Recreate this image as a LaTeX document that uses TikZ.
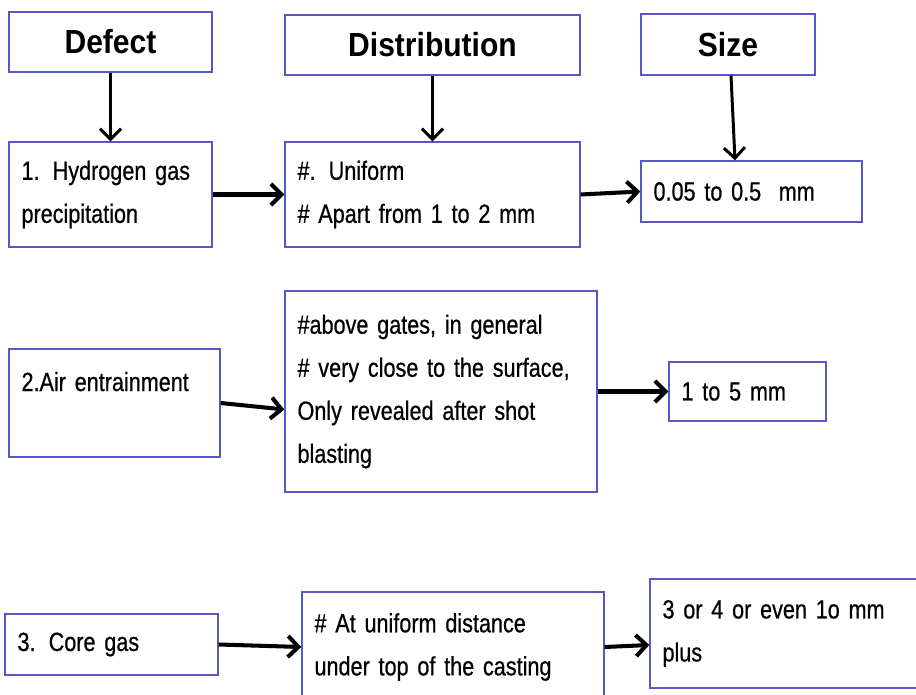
\documentclass[tikz,border=0pt]{standalone}
\usepackage{fontspec}
\setmainfont[FakeStretch=0.82,WordSpace=1.9,FakeBold=0.6]{Liberation Sans}
\newfontfamily\headfont[FakeStretch=0.9]{Liberation Sans}
\usetikzlibrary{arrows.meta}
\definecolor{boxblue}{RGB}{88,88,196}
\tikzset{
  head/.style={draw=boxblue, line width=0.8pt, inner sep=0pt,
    font=\headfont\bfseries\fontsize{19}{23}\selectfont},
  box/.style={draw=boxblue, line width=0.8pt, align=left, inner xsep=0.25cm,
    font=\fontsize{15}{24.5}\selectfont},
  arr/.style={-{Straight Barb[length=6pt,width=12pt]}, line width=1.7pt},
  harr/.style={arr, line width=2.3pt}
}
\begin{document}
\begin{tikzpicture}[x=0.02cm, y=-0.02cm]
    \useasboundingbox (0,0) rectangle (916,695);
    % column headers
    \node[head, minimum width=4.06cm, minimum height=1.2cm]
      (defect) at (110.5,42) {Defect};
    \node[head, minimum width=5.9cm, minimum height=1.2cm]
      (distr) at (432.5,45) {Distribution};
    \node[head, minimum width=3.48cm, minimum height=1.22cm]
      (size) at (728,44.5) {Size};
    % first defect
    \node[box, text width=3.56cm, minimum height=2.1cm]
      (hydro) at (110.5,194.5) {1. Hydrogen gas\\precipitation};
    \node[box, text width=5.4cm, minimum height=2.1cm]
      (unif) at (432.5,194.5) {\#. Uniform\\\# Apart from 1 to 2 mm};
    \node[box, text width=3.92cm, minimum height=1.22cm]
      (szone) at (751.5,191.5) {0.05 to 0.5 \ mm};
    % second defect
    \node[box, text width=3.72cm, minimum height=2.16cm]
      (air) at (114.5,403) {2.Air entrainment\\~};
    \node[box, text width=5.74cm, minimum height=4.02cm]
      (disttwo) at (441,391.5) {\#above gates, in general\\\# very close to the surface,\\Only revealed after shot\\blasting};
    \node[box, text width=2.64cm, minimum height=1.18cm]
      (sztwo) at (747.5,391.5) {1 to 5 mm};
    % third defect
    \node[box, text width=3.76cm, minimum height=1.22cm]
      (core) at (111.5,644.5) {3. Core gas};
    \node[box, text width=5.54cm, minimum height=2.2cm]
      (distthree) at (453,647) {\# At uniform distance\\under top of the casting};
    \node[box, text width=5.1cm, minimum height=2.18cm]
      (szthree) at (790,633.5) {3 or 4 or even 1o mm\\plus};
    % headers point down to the first row
    \draw[arr] (defect) -- (hydro);
    \draw[arr] (distr) -- (unif);
    \draw[arr] ([xshift=0.06cm]size.south) -- ([xshift=-0.33cm]szone.north);
    % rows, left to right
    \draw[harr] (hydro) -- (unif);
    \draw[harr] (unif.east) -- (szone.west);
    \draw[harr] (air.east) -- ([yshift=-0.36cm]disttwo.west);
    \draw[harr] (disttwo) -- (sztwo);
    \draw[harr] (core.east) -- (distthree.west);
    \draw[harr] (distthree.east) -- ([yshift=-0.23cm]szthree.west);
\end{tikzpicture}
\end{document}
